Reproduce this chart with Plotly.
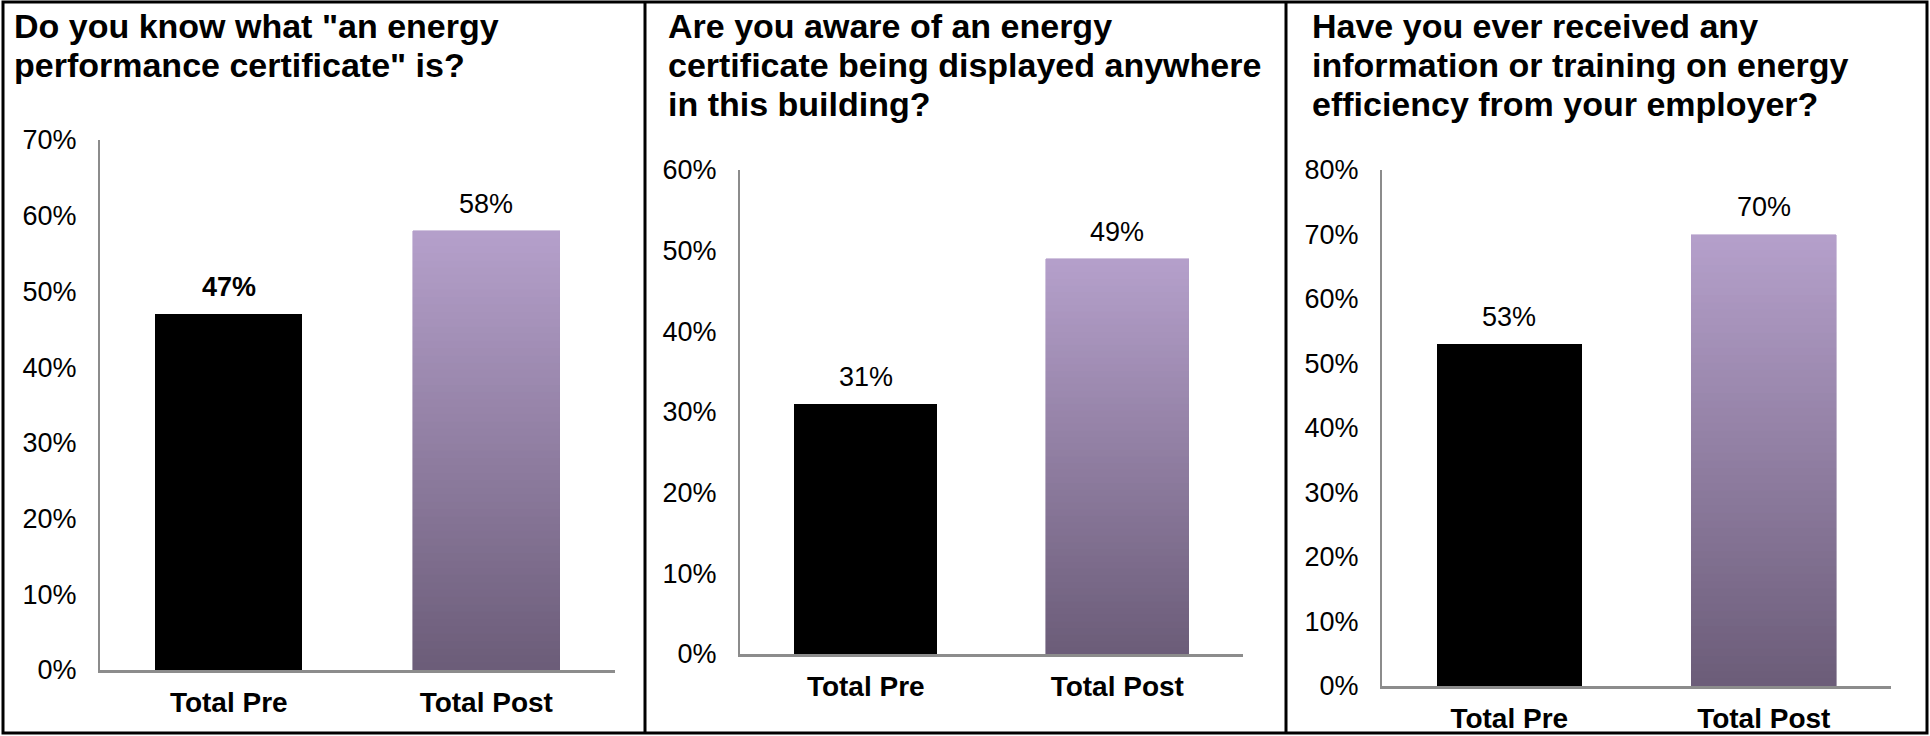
import plotly.graph_objects as go

# ---------------- data ----------------
categories = ["Total Pre", "Total Post"]

q1_title = ['Do you know what "an energy', 'performance certificate" is?']
q2_title = ["Are you aware of an energy", "certificate being displayed anywhere", "in this building?"]
q3_title = ["Have you ever received any", "information or training on energy", "efficiency from your employer?"]

q1_values = [0.47, 0.58]
q2_values = [0.31, 0.49]
q3_values = [0.53, 0.70]

q1_axis_max = 0.7
q2_axis_max = 0.6
q3_axis_max = 0.8

# ---------------- layout helpers ----------------
W, H = 1930, 736
FONT = "Liberation Sans, Arial, sans-serif"
TOP_COLOR = (181, 160, 203)
BOTTOM_COLOR = (107, 92, 120)
N_SEG = 60


def px_x(x):
    return x / W


def px_y(y):
    return 1 - y / H


panels = [
    dict(title=q1_title, values=q1_values, ymax=q1_axis_max,
         x0=100, x1=615, ytop=140, ybot=670, tx=12, bold_pre=True),
    dict(title=q2_title, values=q2_values, ymax=q2_axis_max,
         x0=740, x1=1243, ytop=170, ybot=654, tx=666, bold_pre=False),
    dict(title=q3_title, values=q3_values, ymax=q3_axis_max,
         x0=1382, x1=1891, ytop=170, ybot=686, tx=1310, bold_pre=False),
]
title_line_y = [26, 65, 104]

fig = go.Figure()
annotations = []
layout_axes = {}

for i, p in enumerate(panels):
    n = i + 1
    xa = "x" if n == 1 else f"x{n}"
    ya = "y" if n == 1 else f"y{n}"
    pre_v, post_v = p["values"]

    # black "pre" bar
    fig.add_trace(go.Bar(x=[categories[0]], y=[pre_v], xaxis=xa, yaxis=ya,
                         marker=dict(color="#000000", line=dict(width=0)),
                         showlegend=False, hoverinfo="skip"))
    # gradient "post" bar built from stacked slices of the value
    for k in range(N_SEG):
        f = (k + 0.5) / N_SEG
        c = tuple(int(round(BOTTOM_COLOR[j] + f * (TOP_COLOR[j] - BOTTOM_COLOR[j]))) for j in range(3))
        col = f"rgb{c}"
        fig.add_trace(go.Bar(x=[categories[1]], y=[post_v / N_SEG], xaxis=xa, yaxis=ya,
                             marker=dict(color=col, line=dict(width=0.6, color=col)),
                             showlegend=False, hoverinfo="skip"))

    layout_axes[f"xaxis{'' if n == 1 else n}"] = dict(
        domain=[px_x(p["x0"]), px_x(p["x1"])], anchor=ya, automargin=False,
        type="category", categoryorder="array", categoryarray=categories,
        showline=True, linecolor="#8c8c8c", linewidth=3,
        showgrid=False, zeroline=False, ticks="",
        tickfont=dict(family=FONT, size=28, color="#000000", weight="bold"),
        ticklabelstandoff=5, fixedrange=True)
    layout_axes[f"yaxis{'' if n == 1 else n}"] = dict(
        domain=[px_y(p["ybot"]), px_y(p["ytop"])], anchor=xa, automargin=False,
        range=[0, p["ymax"]], tick0=0, dtick=0.1, tickformat=".0%",
        showline=True, linecolor="#8c8c8c", linewidth=2,
        showgrid=False, zeroline=False, ticks="",
        tickfont=dict(family=FONT, size=27, color="#000000"),
        ticklabelstandoff=16, fixedrange=True)

    # value labels
    for j, v in enumerate(p["values"]):
        bold = (j == 0 and p["bold_pre"])
        annotations.append(dict(
            x=categories[j], y=v, xref=xa, yref=ya,
            text=f"{round(v * 100)}%", showarrow=False,
            yanchor="bottom", xanchor="center", yshift=10,
            font=dict(family=FONT, size=27, color="#000000",
                      weight="bold" if bold else "normal")))

    # titles
    for li, line in enumerate(p["title"]):
        annotations.append(dict(
            x=px_x(p["tx"]), y=px_y(title_line_y[li]), xref="paper", yref="paper",
            text=line, showarrow=False, xanchor="left", yanchor="middle",
            font=dict(family=FONT, size=34, color="#000000", weight="bold")))

# frame and dividers
shapes = [
    dict(type="rect", xref="paper", yref="paper",
         x0=px_x(3), x1=px_x(1927), y0=px_y(733), y1=px_y(2),
         line=dict(color="#000000", width=3)),
]
for xd in (645, 1286):
    shapes.append(dict(type="line", xref="paper", yref="paper",
                       x0=px_x(xd), x1=px_x(xd), y0=px_y(733), y1=px_y(2),
                       line=dict(color="#000000", width=3)))

fig.update_layout(
    template="none",
    width=W, height=H,
    margin=dict(l=0, r=0, t=0, b=0, autoexpand=False),
    paper_bgcolor="#ffffff", plot_bgcolor="#ffffff",
    barmode="stack", bargap=0.43,
    showlegend=False,
    annotations=annotations, shapes=shapes,
    font=dict(family=FONT, color="#000000"),
    **layout_axes,
)

fig.write_html("out.html", config={"displayModeBar": False})
